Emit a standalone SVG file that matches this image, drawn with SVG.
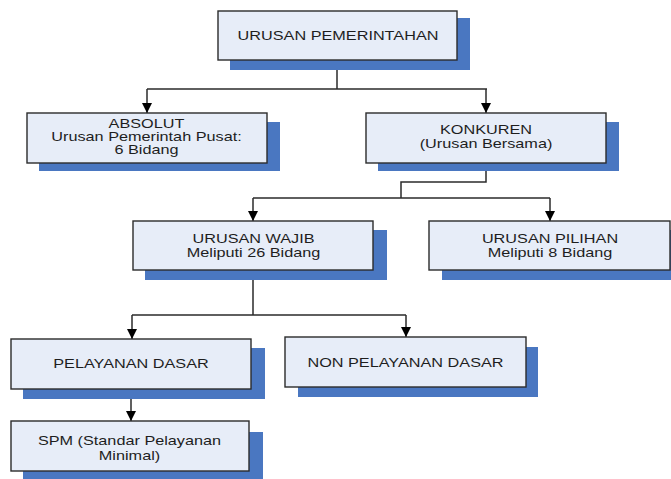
<svg xmlns="http://www.w3.org/2000/svg" width="671" height="479" viewBox="0 0 671 479">
<defs>
<style>
.sh{fill:#4a77c1}
.bx{fill:#e7edf8;stroke:#2b2b2b;stroke-width:1.4}
.t{font-family:"Liberation Sans",Arial,sans-serif;font-size:12.5px;fill:#1e1e1e;text-anchor:middle}
.c{fill:none;stroke:#2b2b2b;stroke-width:1.5}
</style>
<marker id="ah" viewBox="0 0 10 10" refX="10" refY="5" markerWidth="10" markerHeight="10" markerUnits="userSpaceOnUse" orient="auto">
<path d="M0,0 L10,5 L0,10 z" fill="#000"/>
</marker>
</defs>
<rect width="671" height="479" fill="#fff"/>
<g id="connectors">
<path class="c" d="M337,60 V89 M147,89 H487"/>
<path class="c" d="M147,89 V113" marker-end="url(#ah)"/>
<path class="c" d="M486,89 V113" marker-end="url(#ah)"/>
<path class="c" d="M486,163 V182 H401 V198 M253,198 H550"/>
<path class="c" d="M253,198 V221" marker-end="url(#ah)"/>
<path class="c" d="M550,198 V221" marker-end="url(#ah)"/>
<path class="c" d="M253,270 V315 M132,315 H406"/>
<path class="c" d="M132,315 V339" marker-end="url(#ah)"/>
<path class="c" d="M406,315 V337" marker-end="url(#ah)"/>
<path class="c" d="M131,389 V421" marker-end="url(#ah)"/>
</g>
<g id="urusan-pemerintahan">
<rect class="sh" x="230" y="18" width="240" height="52"/>
<rect class="bx" x="218" y="11" width="239" height="49"/>
<text class="t" transform="translate(338,40) scale(1.3,1)">URUSAN PEMERINTAHAN</text>
</g>
<g id="absolut">
<rect class="sh" x="39" y="122" width="241" height="49"/>
<rect class="bx" x="27" y="113" width="240" height="50"/>
<text class="t" transform="translate(146.5,127.5) scale(1.3,1)"><tspan x="0" y="0">ABSOLUT</tspan><tspan x="0" y="13.5">Urusan Pemerintah Pusat:</tspan><tspan x="0" y="27">6 Bidang</tspan></text>
</g>
<g id="konkuren">
<rect class="sh" x="378" y="122" width="241" height="49"/>
<rect class="bx" x="366" y="113" width="240" height="50"/>
<text class="t" transform="translate(486,134.3) scale(1.3,1)"><tspan x="0" y="0">KONKUREN</tspan><tspan x="0" y="14">(Urusan Bersama)</tspan></text>
</g>
<g id="urusan-wajib">
<rect class="sh" x="145" y="230" width="242" height="50"/>
<rect class="bx" x="133" y="221" width="240" height="49"/>
<text class="t" transform="translate(253.5,242.5) scale(1.3,1)"><tspan x="0" y="0">URUSAN WAJIB</tspan><tspan x="0" y="14.7">Meliputi 26 Bidang</tspan></text>
</g>
<g id="urusan-pilihan">
<rect class="sh" x="442" y="230" width="240" height="50"/>
<rect class="bx" x="429" y="221" width="241" height="49"/>
<text class="t" transform="translate(550,242.5) scale(1.3,1)"><tspan x="0" y="0">URUSAN PILIHAN</tspan><tspan x="0" y="15">Meliputi 8 Bidang</tspan></text>
</g>
<g id="pelayanan-dasar">
<rect class="sh" x="23" y="348" width="242" height="51"/>
<rect class="bx" x="11" y="339" width="240" height="50"/>
<text class="t" transform="translate(131,368.3) scale(1.3,1)">PELAYANAN DASAR</text>
</g>
<g id="non-pelayanan-dasar">
<rect class="sh" x="298" y="347" width="240" height="50"/>
<rect class="bx" x="285" y="337" width="241" height="50"/>
<text class="t" transform="translate(405.5,367.3) scale(1.3,1)">NON PELAYANAN DASAR</text>
</g>
<g id="spm">
<rect class="sh" x="23" y="432" width="240" height="47"/>
<rect class="bx" x="11" y="421" width="238" height="50"/>
<text class="t" transform="translate(129.5,445) scale(1.3,1)"><tspan x="0" y="0">SPM (Standar Pelayanan</tspan><tspan x="0" y="15">Minimal)</tspan></text>
</g>
</svg>
